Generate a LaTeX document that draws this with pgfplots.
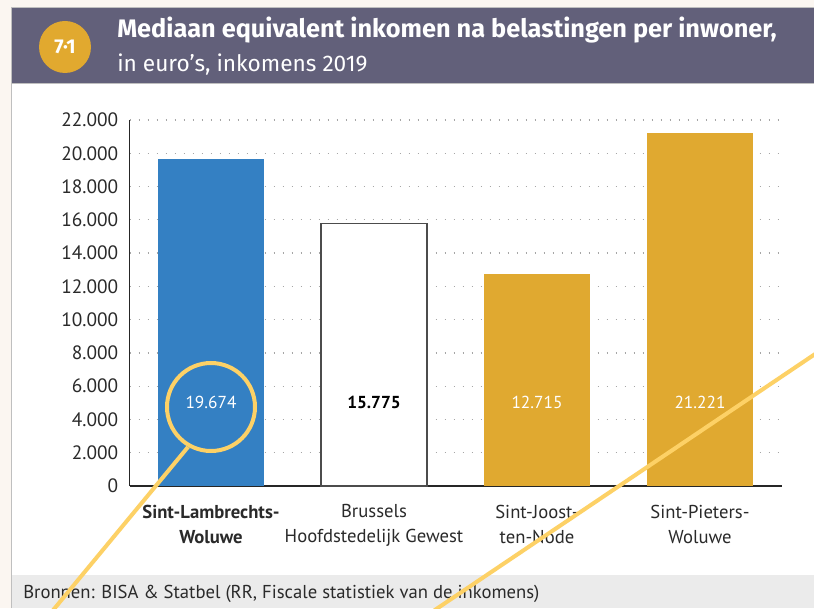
\documentclass[border=0pt]{standalone}
\usepackage{pgfplots}
\pgfplotsset{compat=1.18}
\usepackage{fontspec}
\setmainfont{PT Sans}
\newfontfamily\titlefont{Fira Sans}

\definecolor{cream}{HTML}{FBF6F1}
\definecolor{headgray}{HTML}{62607A}
\definecolor{footgray}{HTML}{EBEBEB}
\definecolor{badge}{HTML}{E1A92F}
\definecolor{barblue}{HTML}{3480C3}
\definecolor{bargold}{HTML}{E0A930}
\definecolor{marker}{HTML}{FDD166}
\definecolor{txt}{HTML}{2A2A2A}

\begin{document}
\begin{tikzpicture}[x=0.75pt,y=0.75pt]
% frame, header, footer (pixel units, origin bottom left)
\fill[cream] (0,0) rectangle (814,608);
\useasboundingbox (0,0) rectangle (814,608);
\fill[white] (11,25) rectangle (814,525);
\fill[footgray] (11,0) rectangle (814,33);
\draw[black!25, line width=0.8pt] (11.5,0) -- (11.5,525);
\fill[headgray] (11,525) rectangle (814,601);
\draw[black!25, line width=0.6pt] (11,601) -- (814,601) (11,525) -- (814,525) (11,601) -- (11,525);
\fill[badge] (65,561) circle[radius=19.5pt];
\node[white, font=\titlefont\bfseries\fontsize{15}{15}\selectfont] at (65,561) {7·1};
\node[anchor=base west, white, inner sep=0pt, font=\titlefont\bfseries\fontsize{19}{21}\selectfont]
  at (117,570) {Mediaan equivalent inkomen na belastingen per inwoner,};
\node[anchor=base west, white, inner sep=0pt, font=\titlefont\fontsize{17}{19}\selectfont]
  at (117,536) {in euro’s, inkomens 2019};
\node[anchor=base west, txt, inner sep=0pt, font=\fontsize{14}{16}\selectfont]
  at (23,10) {Bronnen: BISA \& Statbel (RR, Fiscale statistiek van de inkomens)};

\coordinate (org) at (211,122);
\begin{axis}[
  at={(org)}, anchor=origin,
  scale only axis, width=489pt, height=274.5pt,
  xmin=-0.5, xmax=3.5, ymin=0, ymax=22000,
  axis x line*=bottom, axis y line*=left,
  axis line style={-, draw=black!85, line width=1.4pt},
  xtick={0,1,2,3},
  xticklabels={{\textbf{Sint-Lambrechts-}\\\textbf{Woluwe}},
               {Brussels\\Hoofdstedelijk Gewest},
               {Sint-Joost-\\ten-Node},
               {Sint-Pieters-\\Woluwe}},
  xticklabel style={align=center, text=txt, font=\fontsize{14}{18.75}\selectfont, yshift=-10.5pt},
  ytick={0,2000,...,22000},
  yticklabel style={text=txt, font=\fontsize{14.5}{16}\selectfont, xshift=-5pt},
  scaled y ticks=false,
  /pgf/number format/.cd, 1000 sep={.}, assume math mode=true, /pgfplots/.cd,
  major tick length=0pt,
  ymajorgrids,
  grid style={draw=black!35, line width=1pt, dash pattern=on 1pt off 5.75pt},
  clip=false,
]
\addplot[ybar, bar width=0.65, bar shift=0pt, fill=barblue, draw=none] coordinates {(0,19674)};
\addplot[ybar, bar width=0.65, bar shift=0pt, fill=white, draw=black!70, line width=1.2pt] coordinates {(1,15775)};
\addplot[ybar, bar width=0.65, bar shift=0pt, fill=bargold, draw=none] coordinates {(2,12715)};
\addplot[ybar, bar width=0.65, bar shift=0pt, fill=bargold, draw=none] coordinates {(3,21221)};
\node[white, font=\fontsize{13}{14}\selectfont] at (axis cs:0,5000) {19.674};
\node[black, font=\bfseries\fontsize{13}{14}\selectfont] at (axis cs:1,5000) {15.775};
\node[white, font=\fontsize{13}{14}\selectfont] at (axis cs:2,5000) {12.715};
\node[white, font=\fontsize{13}{14}\selectfont] at (axis cs:3,5000) {21.221};
\end{axis}

% highlight marks
\begin{scope}
\clip (0,0) rectangle (814,608);
\draw[marker, line width=3pt] (211,201) circle[radius=33pt];
\draw[marker, line width=3pt] (188,161) -- (40,-18);
\draw[marker, line width=3pt] (420,-12) -- (830,264);
\end{scope}
\end{tikzpicture}
\end{document}
